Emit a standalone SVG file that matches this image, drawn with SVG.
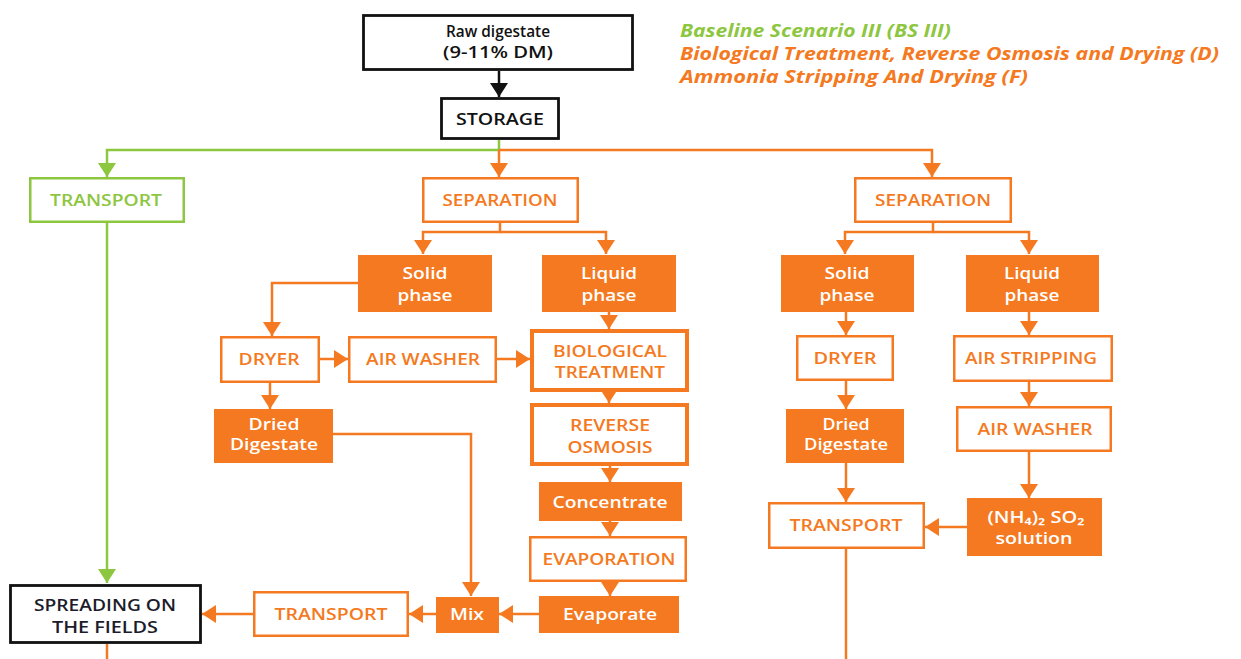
<svg xmlns="http://www.w3.org/2000/svg" width="1241" height="659" viewBox="0 0 1241 659">
<style>
.ob{fill:#fff;stroke:#F47920;stroke-width:2.5}
.ob4{fill:#fff;stroke:#F47920;stroke-width:4}
.fb{fill:#F47920}
.gb{fill:#fff;stroke:#8DC63F;stroke-width:2.5}
.kb{fill:#fff;stroke:#111;stroke-width:2.8}
.t{font-family:"Open Sans","Noto Sans","Liberation Sans",sans-serif;font-weight:600;font-size:16px;text-anchor:middle}
.to{fill:#F47920}.tw{fill:#fff}.tg{fill:#8DC63F}.tk{fill:#111}.tn{fill:#1c1c2c}
.lg{font-family:"Open Sans","Noto Sans","Liberation Sans",sans-serif;font-weight:700;font-style:italic;font-size:17px}
.c{fill:none;stroke-width:2.5}
.co{stroke:#F47920;marker-end:url(#ao)}
.cn{stroke:#F47920}
.cg{stroke:#8DC63F;marker-end:url(#ag)}
.cgn{stroke:#8DC63F}
.ck{stroke:#111;marker-end:url(#ak)}
</style>
<defs>
<marker id="ao" markerUnits="userSpaceOnUse" markerWidth="14" markerHeight="18" viewBox="0 0 14 18" refX="14" refY="9" orient="auto"><path d="M0,0 L14,9 L0,18 z" fill="#F47920"/></marker>
<marker id="ag" markerUnits="userSpaceOnUse" markerWidth="14" markerHeight="18" viewBox="0 0 14 18" refX="14" refY="9" orient="auto"><path d="M0,0 L14,9 L0,18 z" fill="#8DC63F"/></marker>
<marker id="ak" markerUnits="userSpaceOnUse" markerWidth="14" markerHeight="18" viewBox="0 0 14 18" refX="14" refY="9" orient="auto"><path d="M0,0 L14,9 L0,18 z" fill="#111"/></marker>
</defs>
<rect width="1241" height="659" fill="#fff"/>

<g id="legend">
<text class="lg" x="680" y="37" fill="#8DC63F" textLength="271" lengthAdjust="spacingAndGlyphs">Baseline Scenario III (BS III)</text>
<text class="lg" x="680" y="60" fill="#F47920" textLength="539" lengthAdjust="spacingAndGlyphs">Biological Treatment, Reverse Osmosis and Drying (D)</text>
<text class="lg" x="680" y="83" fill="#F47920" textLength="348" lengthAdjust="spacingAndGlyphs">Ammonia Stripping And Drying (F)</text>
</g>

<g id="connectors" class="c">
<path class="c ck" d="M499,71 V97"/>
<path class="c cgn" d="M499,140 V150"/>
<path class="c cg" d="M499,150 H107 V177"/>
<path class="c cg" d="M107,223 V583"/>
<path class="c co" d="M499,150 V177"/>
<path class="c co" d="M499,150 H932 V177"/>
<path class="c co" d="M500,223 V232 H423 V254"/>
<path class="c co" d="M500,232 H606 V254"/>
<path class="c co" d="M933,223 V232 H845 V254"/>
<path class="c co" d="M933,232 H1029 V254"/>
<path class="c co" d="M358,283 H272 V336"/>
<path class="c co" d="M320,359 H348"/>
<path class="c co" d="M497,359 H530"/>
<path class="c co" d="M609,312 V329"/>
<path class="c co" d="M270,383 V409"/>
<path class="c co" d="M609,392 V403"/>
<path class="c co" d="M610,466 V482"/>
<path class="c co" d="M610,521 V536"/>
<path class="c co" d="M610,582 V596"/>
<path class="c co" d="M333,434 H471 V596"/>
<path class="c co" d="M539,614 H499"/>
<path class="c co" d="M436,614 H409"/>
<path class="c co" d="M253,614 H202"/>
<path class="c cn" d="M107,644 V659"/>
<path class="c co" d="M846,312 V335"/>
<path class="c co" d="M846,381 V409"/>
<path class="c co" d="M846,463 V502"/>
<path class="c cn" d="M846,549 V659"/>
<path class="c co" d="M1029,312 V335"/>
<path class="c co" d="M1029,382 V406"/>
<path class="c co" d="M1029,452 V498"/>
<path class="c co" d="M967,527 H925"/>
</g>

<g id="raw"><rect class="kb" x="363.5" y="15.5" width="269" height="54"/>
<text class="t tk" x="498" y="37" font-size="15.5" font-weight="700" textLength="104" lengthAdjust="spacingAndGlyphs">Raw digestate</text>
<text class="t tk" x="498" y="58" font-size="15" textLength="110" lengthAdjust="spacingAndGlyphs">(9-11% DM)</text></g>

<g id="storage"><rect class="kb" x="441.5" y="98.5" width="117" height="40"/>
<text class="t tk" x="500" y="125" textLength="88" lengthAdjust="spacingAndGlyphs">STORAGE</text></g>

<g id="transport-bs"><rect class="gb" x="30.25" y="178.25" width="153.5" height="43.5"/>
<text class="t tg" x="106" y="206" textLength="112" lengthAdjust="spacingAndGlyphs">TRANSPORT</text></g>

<g id="separation-d"><rect class="ob" x="423.25" y="178.25" width="154.5" height="43.5"/>
<text class="t to" x="500" y="206" textLength="115" lengthAdjust="spacingAndGlyphs">SEPARATION</text></g>

<g id="separation-f"><rect class="ob" x="855.25" y="178.25" width="155.5" height="43.5"/>
<text class="t to" x="933" y="206" textLength="116" lengthAdjust="spacingAndGlyphs">SEPARATION</text></g>

<g id="solid-d"><rect class="fb" x="358" y="255" width="134" height="57"/>
<text class="t tw" x="425" y="279" textLength="45" lengthAdjust="spacingAndGlyphs">Solid</text>
<text class="t tw" x="425" y="301" textLength="55" lengthAdjust="spacingAndGlyphs">phase</text></g>

<g id="liquid-d"><rect class="fb" x="542" y="255" width="134" height="57"/>
<text class="t tw" x="609" y="279" textLength="56" lengthAdjust="spacingAndGlyphs">Liquid</text>
<text class="t tw" x="609" y="301" textLength="55" lengthAdjust="spacingAndGlyphs">phase</text></g>

<g id="solid-f"><rect class="fb" x="781" y="255" width="133" height="57"/>
<text class="t tw" x="847" y="279" textLength="45" lengthAdjust="spacingAndGlyphs">Solid</text>
<text class="t tw" x="847" y="301" textLength="55" lengthAdjust="spacingAndGlyphs">phase</text></g>

<g id="liquid-f"><rect class="fb" x="966" y="255" width="133" height="57"/>
<text class="t tw" x="1032" y="279" textLength="56" lengthAdjust="spacingAndGlyphs">Liquid</text>
<text class="t tw" x="1032" y="301" textLength="55" lengthAdjust="spacingAndGlyphs">phase</text></g>

<g id="dryer-d"><rect class="ob" x="221.25" y="337.25" width="97.5" height="44.5"/>
<text class="t to" x="269" y="365" textLength="61" lengthAdjust="spacingAndGlyphs">DRYER</text></g>

<g id="airwasher-d"><rect class="ob" x="349.25" y="337.25" width="146.5" height="44.5"/>
<text class="t to" x="423" y="365" textLength="114" lengthAdjust="spacingAndGlyphs">AIR WASHER</text></g>

<g id="bio"><rect class="ob4" x="532" y="331" width="155" height="59"/>
<text class="t to" x="610" y="357" textLength="114" lengthAdjust="spacingAndGlyphs">BIOLOGICAL</text>
<text class="t to" x="610" y="378" textLength="110" lengthAdjust="spacingAndGlyphs">TREATMENT</text></g>

<g id="dried-d"><rect class="fb" x="214" y="409" width="119" height="54"/>
<text class="t tw" x="274" y="430" font-size="15" textLength="51" lengthAdjust="spacingAndGlyphs">Dried</text>
<text class="t tw" x="274" y="450" font-size="15" textLength="88" lengthAdjust="spacingAndGlyphs">Digestate</text></g>

<g id="ro"><rect class="ob4" x="532" y="405" width="155" height="59"/>
<text class="t to" x="610" y="431" textLength="80" lengthAdjust="spacingAndGlyphs">REVERSE</text>
<text class="t to" x="610" y="453" textLength="85" lengthAdjust="spacingAndGlyphs">OSMOSIS</text></g>

<g id="concentrate"><rect class="fb" x="539" y="482" width="143" height="39"/>
<text class="t tw" x="610" y="508" textLength="115" lengthAdjust="spacingAndGlyphs">Concentrate</text></g>

<g id="evaporation"><rect class="ob" x="530.25" y="537.25" width="155.5" height="43.5"/>
<text class="t to" x="609" y="565" textLength="133" lengthAdjust="spacingAndGlyphs">EVAPORATION</text></g>

<g id="evaporate"><rect class="fb" x="539" y="596" width="140" height="37"/>
<text class="t tw" x="610" y="620" textLength="94" lengthAdjust="spacingAndGlyphs">Evaporate</text></g>

<g id="mix"><rect class="fb" x="436" y="597" width="63" height="36"/>
<text class="t tw" x="467" y="620" textLength="34" lengthAdjust="spacingAndGlyphs">Mix</text></g>

<g id="transport-d"><rect class="ob" x="254.25" y="592.25" width="153.5" height="43.5"/>
<text class="t to" x="331" y="620" textLength="113" lengthAdjust="spacingAndGlyphs">TRANSPORT</text></g>

<g id="spreading"><rect class="kb" x="10.5" y="585.5" width="190" height="57"/>
<text class="t tn" x="105" y="611" textLength="142" lengthAdjust="spacingAndGlyphs">SPREADING ON</text>
<text class="t tn" x="105" y="633" textLength="106" lengthAdjust="spacingAndGlyphs">THE FIELDS</text></g>

<g id="dryer-f"><rect class="ob" x="797.25" y="336.25" width="95.5" height="43.5"/>
<text class="t to" x="845" y="364" textLength="63" lengthAdjust="spacingAndGlyphs">DRYER</text></g>

<g id="dried-f"><rect class="fb" x="786" y="409" width="118" height="54"/>
<text class="t tw" x="846" y="430" font-size="15" textLength="47" lengthAdjust="spacingAndGlyphs">Dried</text>
<text class="t tw" x="846" y="450" font-size="15" textLength="84" lengthAdjust="spacingAndGlyphs">Digestate</text></g>

<g id="transport-f"><rect class="ob" x="769.25" y="503.25" width="154.5" height="44.5"/>
<text class="t to" x="846" y="531" textLength="113" lengthAdjust="spacingAndGlyphs">TRANSPORT</text></g>

<g id="airstripping"><rect class="ob" x="954.25" y="336.25" width="157.5" height="44.5"/>
<text class="t to" x="1031" y="364" textLength="132" lengthAdjust="spacingAndGlyphs">AIR STRIPPING</text></g>

<g id="airwasher-f"><rect class="ob" x="957.25" y="407.25" width="153.5" height="43.5"/>
<text class="t to" x="1035" y="435" textLength="115" lengthAdjust="spacingAndGlyphs">AIR WASHER</text></g>

<g id="solution"><rect class="fb" x="967" y="498" width="135" height="58"/>
<text class="t tw" x="1036" y="523" textLength="97" lengthAdjust="spacingAndGlyphs">(NH₄)₂ SO₂</text>
<text class="t tw" x="1034" y="544" textLength="77" lengthAdjust="spacingAndGlyphs">solution</text></g>
</svg>
